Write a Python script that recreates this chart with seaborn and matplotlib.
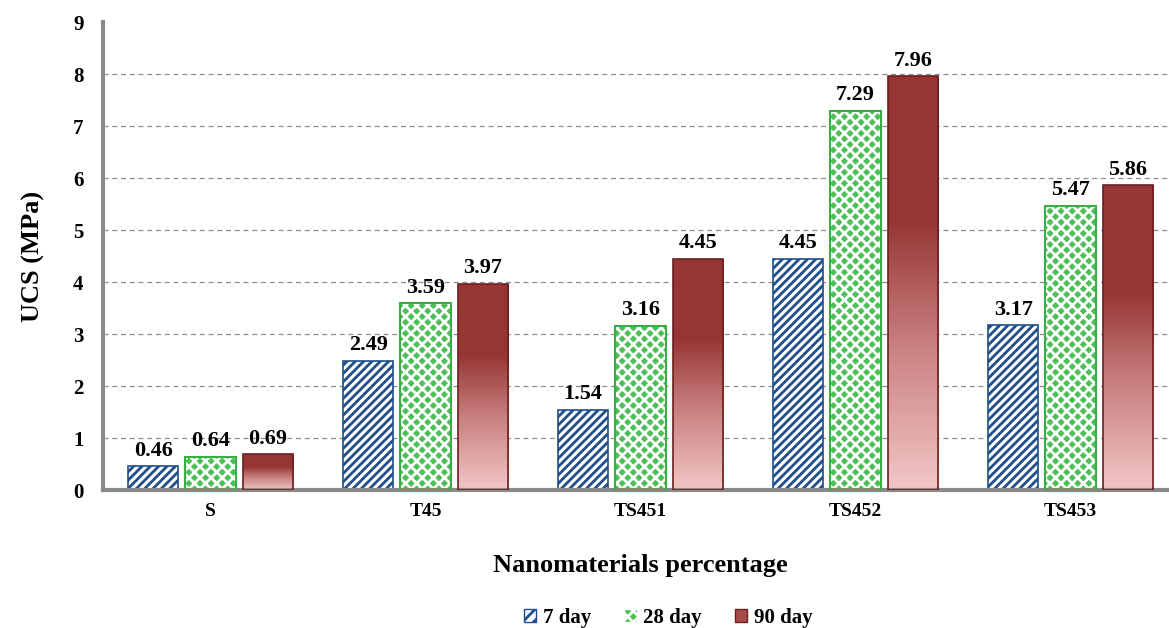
import numpy as np
import pandas as pd
import matplotlib.pyplot as plt
import matplotlib.colors as mcolors
from matplotlib.patches import Patch, Rectangle
import seaborn as sns

groups = ["S", "T45", "TS451", "TS452", "TS453"]
ages = ["7 day", "28 day", "90 day"]
ucs_7 = [0.46, 2.49, 1.54, 4.45, 3.17]
ucs_28 = [0.64, 3.59, 3.16, 7.29, 5.47]
ucs_90 = [0.69, 3.97, 4.45, 7.96, 5.86]

df = pd.DataFrame({
    "group": groups * 3,
    "age": [a for a in ages for _ in groups],
    "ucs": ucs_7 + ucs_28 + ucs_90,
})

sns.set_theme(style="white")
plt.rcParams["font.family"] = ["Liberation Serif", "DejaVu Serif"]
plt.rcParams["font.weight"] = "bold"
plt.rcParams["hatch.linewidth"] = 2.0
for k in ["text.color", "axes.labelcolor", "xtick.color", "ytick.color"]:
    plt.rcParams[k] = "black"

blue = "#1f4e8c"
green = "#4cbf58"
red_dark = "#963634"
red_light = "#f3c6c6"

fig = plt.figure(figsize=(11.69, 6.28), dpi=100)
ax = fig.add_axes([103 / 1169, 1 - 490 / 628, 1075 / 1169, 468 / 628])

sns.barplot(data=df, x="group", y="ucs", hue="age", order=groups, hue_order=ages,
            palette=["white", green, red_dark], gap=0.12, width=0.8,
            legend=False, ax=ax, zorder=2)

c7, c28, c90 = ax.containers

# 7 day: blue diagonal stripes
for b in c7:
    b.set_facecolor("white")
    b.set_edgecolor(blue)
    b.set_hatch("////")
    b.set_linewidth(1.2)

# 28 day: green with white weave, green outline
for b in c28:
    b.set_facecolor(green)
    b.set_edgecolor("white")
    b.set_hatch("xxx")
    b.set_linewidth(0)
    ax.add_patch(Rectangle(b.get_xy(), b.get_width(), b.get_height(), fill=False,
                           edgecolor="#3aae46", linewidth=1.5, zorder=3))

# 90 day: dark red fading to pink toward the bottom
cmap = mcolors.LinearSegmentedColormap.from_list(
    "redfade", [(0, red_light), (0.35, "#c98080"), (0.65, red_dark), (1, red_dark)])
for b in c90:
    x0, y0 = b.get_xy()
    w, h = b.get_width(), b.get_height()
    grad = np.linspace(0, 1, 256).reshape(-1, 1)
    im = ax.imshow(grad, cmap=cmap, extent=(x0, x0 + w, y0, y0 + h), origin="lower",
                   aspect="auto", zorder=2.5)
    im.set_clip_path(b)
    b.set_facecolor("none")
    b.set_edgecolor("#6b1f1f")
    b.set_linewidth(1.2)
    b.set_zorder(3)

for cont in (c7, c28, c90):
    ax.bar_label(cont, fmt="%.2f", padding=4, fontsize=16, fontweight="bold")

ax.set_xlim(-0.5, 4.5)
ax.set_ylim(0, 9)
ax.set_yticks(range(0, 10))
ax.yaxis.grid(True, linestyle=(0, (4, 3)), color="#8c8c8c", linewidth=0.9)
ax.yaxis.get_gridlines()[-1].set_visible(False)
ax.set_axisbelow(True)
ax.tick_params(axis="y", length=0, labelsize=15, pad=14)
ax.tick_params(axis="x", length=0, labelsize=14, pad=9)
for lab in ax.get_xticklabels() + ax.get_yticklabels():
    lab.set_fontweight("bold")

for s in ["top", "right"]:
    ax.spines[s].set_visible(False)
for s in ["left", "bottom"]:
    ax.spines[s].set_color("#8a8a8a")
    ax.spines[s].set_linewidth(3)

ax.set_xlabel("Nanomaterials percentage", fontsize=19, fontweight="bold", labelpad=25)
ax.set_ylabel("UCS (MPa)", fontsize=19, fontweight="bold", labelpad=20)

handles = [
    Patch(facecolor="white", edgecolor=blue, hatch="///", label="7 day"),
    Patch(facecolor=green, edgecolor="white", hatch="xxx", label="28 day"),
    Patch(facecolor="#a84a48", edgecolor="#6b1f1f", label="90 day"),
]
fig.legend(handles=handles, loc="center", bbox_to_anchor=(668 / 1169, 1 - 618 / 628),
           ncol=3, frameon=False, handlelength=0.6, handleheight=0.6,
           handletextpad=0.3, columnspacing=1.6, prop={"weight": "bold", "size": 15})

fig.savefig("out.png", dpi=100)
